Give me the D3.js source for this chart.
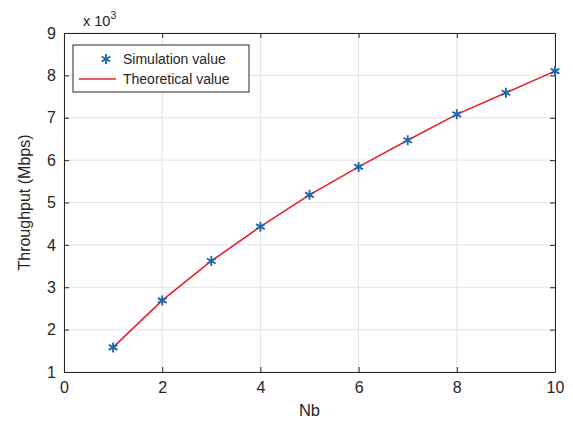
<!DOCTYPE html>
<html>
<head>
<meta charset="utf-8">
<script src="https://cdn.jsdelivr.net/npm/d3@7"></script>
<style>
  body { margin: 0; background: #fff; }
  svg text { font-family: "Liberation Sans", Arial, sans-serif; fill: #262626; }
</style>
</head>
<body>
<svg id="chart" width="573" height="421"></svg>
<script>
// data (values in units of 10^3 Mbps)
const nb = [1, 2, 3, 4, 5, 6, 7, 8, 9, 10];
const simulation = [1.58, 2.69, 3.62, 4.43, 5.18, 5.84, 6.47, 7.08, 7.59, 8.10];
const theoretical = [1.58, 2.69, 3.62, 4.43, 5.18, 5.84, 6.47, 7.08, 7.59, 8.10];
const xTicks = [0, 2, 4, 6, 8, 10];
const yTicks = [1, 2, 3, 4, 5, 6, 7, 8, 9];

const margin = {left: 64, right: 18, top: 33, bottom: 49};
const width = 573, height = 421;

const svg = d3.select("#chart");

const x = d3.scaleLinear().domain([0, 10]).range([margin.left, width - margin.right]);
const y = d3.scaleLinear().domain([1, 9]).range([height - margin.bottom, margin.top]);

// grid
svg.append("g").selectAll("line.gx")
  .data(xTicks).join("line")
    .attr("x1", d => x(d)).attr("x2", d => x(d))
    .attr("y1", y(1)).attr("y2", y(9))
    .attr("stroke", "#e3e3e3").attr("stroke-width", 1);
svg.append("g").selectAll("line.gy")
  .data(yTicks).join("line")
    .attr("y1", d => y(d)).attr("y2", d => y(d))
    .attr("x1", x(0)).attr("x2", x(10))
    .attr("stroke", "#e3e3e3").attr("stroke-width", 1);

// axes (ticks pointing inward, box all round)
const styleAxis = g => {
  g.select(".domain").attr("stroke", "#262626");
  g.selectAll(".tick line").attr("stroke", "#262626");
  g.selectAll(".tick text").attr("font-size", 16).attr("fill", "#262626")
    .attr("font-family", "Liberation Sans, Arial, sans-serif");
};

svg.append("g")
  .attr("transform", `translate(0,${y(1)})`)
  .call(d3.axisBottom(x).tickValues(xTicks).tickSizeInner(-5).tickSizeOuter(0).tickPadding(10))
  .call(styleAxis);
svg.append("g")
  .attr("transform", `translate(${x(0)},0)`)
  .call(d3.axisLeft(y).tickValues(yTicks).tickSizeInner(-5).tickSizeOuter(0).tickPadding(8))
  .call(styleAxis);
svg.append("g")
  .attr("transform", `translate(0,${y(9)})`)
  .call(d3.axisTop(x).tickValues(xTicks).tickSizeInner(-5).tickSizeOuter(0).tickFormat(""))
  .call(styleAxis);
svg.append("g")
  .attr("transform", `translate(${x(10)},0)`)
  .call(d3.axisRight(y).tickValues(yTicks).tickSizeInner(-5).tickSizeOuter(0).tickFormat(""))
  .call(styleAxis);

// theoretical line
const line = d3.line().x((d, i) => x(nb[i])).y(d => y(d));
svg.append("path")
  .datum(theoretical)
  .attr("d", line)
  .attr("fill", "none")
  .attr("stroke", "#e8202e")
  .attr("stroke-width", 1.6);

// simulation markers (asterisk)
const star = d3.symbol().type(d3.symbolAsterisk).size(70);
svg.append("g").selectAll("path")
  .data(simulation).join("path")
    .attr("transform", (d, i) => `translate(${x(nb[i])},${y(d)})`)
    .attr("d", star)
    .attr("fill", "none")
    .attr("stroke", "#2467a8")
    .attr("stroke-width", 1.9);

// axis labels
svg.append("text")
  .attr("x", (x(0) + x(10)) / 2).attr("y", 416)
  .attr("text-anchor", "middle").attr("font-size", 16.5)
  .text("Nb");
svg.append("text")
  .attr("transform", `translate(30,${(y(1) + y(9)) / 2}) rotate(-90)`)
  .attr("text-anchor", "middle").attr("font-size", 16)
  .text("Throughput (Mbps)");

// exponent label
const ex = svg.append("text").attr("x", 83).attr("y", 26).attr("font-size", 14.5);
ex.append("tspan").text("x 10");
ex.append("tspan").attr("dy", -7).attr("font-size", 10.5).text("3");

// legend
const lg = svg.append("g");
lg.append("rect")
  .attr("x", 73).attr("y", 45).attr("width", 176).attr("height", 47)
  .attr("fill", "#fff").attr("stroke", "#262626").attr("stroke-width", 1);
lg.append("path")
  .attr("transform", "translate(106,59)")
  .attr("d", star)
  .attr("fill", "none").attr("stroke", "#2467a8").attr("stroke-width", 1.9);
lg.append("line")
  .attr("x1", 79).attr("x2", 116).attr("y1", 79).attr("y2", 79)
  .attr("stroke", "#e8202e").attr("stroke-width", 1.6);
lg.append("text").attr("x", 123).attr("y", 64).attr("font-size", 14).text("Simulation value");
lg.append("text").attr("x", 123).attr("y", 84).attr("font-size", 14).text("Theoretical value");
</script>
</body>
</html>
